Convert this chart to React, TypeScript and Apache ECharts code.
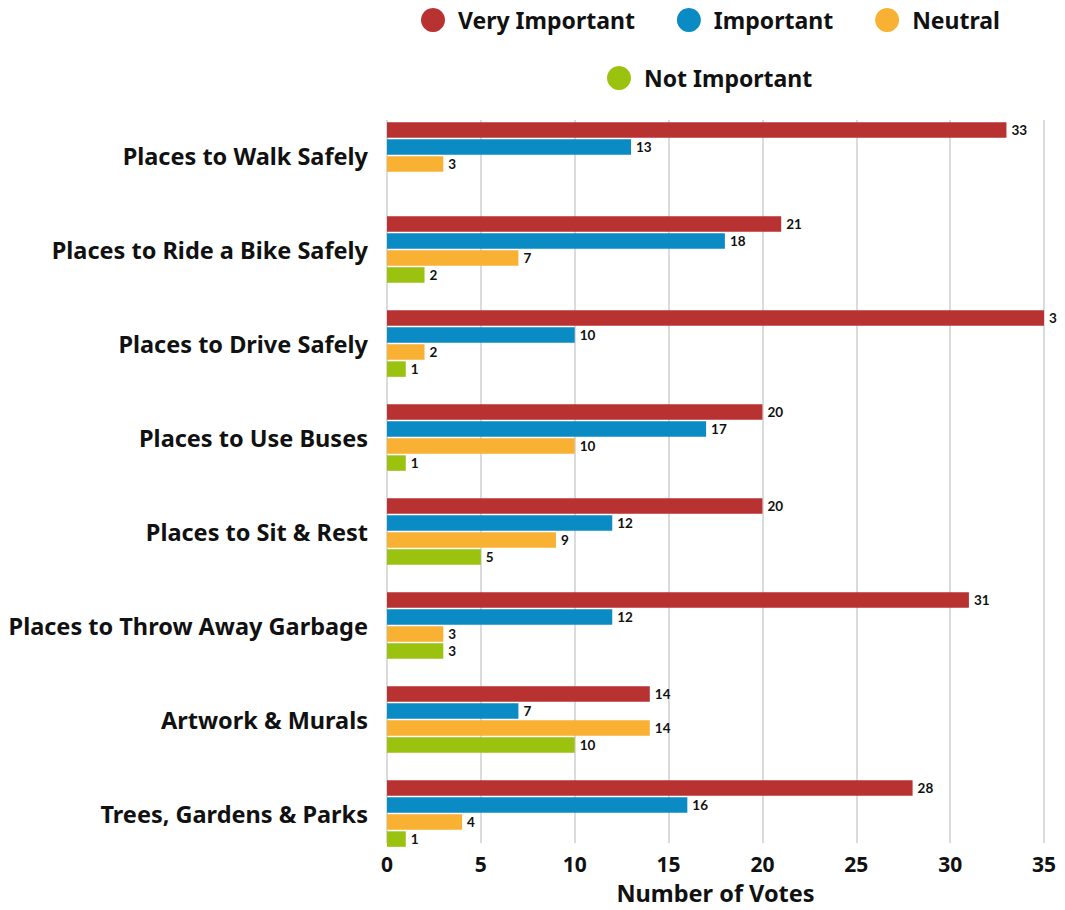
import React, { useEffect, useRef } from "react";
import * as echarts from "echarts";

const categories = [
  "Places to Walk Safely",
  "Places to Ride a Bike Safely",
  "Places to Drive Safely",
  "Places to Use Buses",
  "Places to Sit & Rest",
  "Places to Throw Away Garbage",
  "Artwork & Murals",
  "Trees, Gardens & Parks",
];
const veryImportant = [33, 21, 35, 20, 20, 31, 14, 28];
const important = [13, 18, 10, 17, 12, 12, 7, 16];
const neutral = [3, 7, 2, 10, 9, 3, 14, 4];
const notImportant = [0, 2, 1, 1, 5, 3, 10, 1];

const seriesNames = ["Very Important", "Important", "Neutral", "Not Important"];
const seriesData = [veryImportant, important, neutral, notImportant];
const colors = ["#B93232", "#0B8BC4", "#F8B133", "#9CC210"];

const FONT = "'Noto Sans', sans-serif";

export default function App() {
  const ref = useRef<HTMLDivElement>(null);
  useEffect(() => {
    if (!ref.current) return;
    const chart = echarts.init(ref.current, undefined, { renderer: "svg" });
    const legendText = { fontFamily: FONT, fontWeight: "bold", fontSize: 23, color: "#111" };
    chart.setOption({
      animation: false,
      backgroundColor: "#fff",
      color: colors,
      legend: [
        {
          data: seriesNames.slice(0, 3),
          left: 416,
          top: 3,
          icon: "circle",
          itemWidth: 40,
          itemHeight: 24,
          itemGap: 42,
          textStyle: legendText,
        },
        {
          data: seriesNames.slice(3),
          left: 602,
          top: 61,
          icon: "circle",
          itemWidth: 40,
          itemHeight: 24,
          textStyle: legendText,
        },
      ],
      grid: [
        { left: 387, right: 21, top: 108.5, height: 752, containLabel: false },
        { left: 387, right: 21, top: 120, bottom: 63, containLabel: false },
      ],
      xAxis: [
        { gridIndex: 0, type: "value", min: 0, max: 35, show: false },
        {
          gridIndex: 1,
          type: "value",
          min: 0,
          max: 35,
          interval: 5,
          axisLine: { show: false },
          axisTick: { show: false },
          splitLine: { show: true, lineStyle: { color: "#cfcfcf", width: 1.5 } },
          axisLabel: { fontFamily: FONT, fontWeight: "bold", fontSize: 21, color: "#111", margin: 10 },
          name: "Number of Votes",
          nameLocation: "middle",
          nameGap: 38,
          nameTextStyle: { fontFamily: FONT, fontWeight: "bold", fontSize: 23.5, color: "#111" },
        },
      ],
      yAxis: [
        {
          gridIndex: 0,
          type: "category",
          data: categories,
          inverse: true,
          axisLine: { show: false },
          axisTick: { show: false },
          splitLine: { show: false },
          axisLabel: { fontFamily: FONT, fontWeight: "bold", fontSize: 23.5, color: "#111", margin: 19 },
        },
        { gridIndex: 1, type: "value", show: false, min: 0, max: 1 },
      ],
      series: seriesNames.map((name, i) => ({
        name,
        type: "bar",
        xAxisIndex: 0,
        yAxisIndex: 0,
        data: seriesData[i],
        barWidth: 15.5,
        barGap: "10%",
        itemStyle: { color: colors[i] },
        label: {
          show: true,
          position: "right",
          distance: 5,
          fontFamily: "Lato, sans-serif",
          fontWeight: "bold",
          fontSize: 13.5,
          color: "#111",
          formatter: (p: any) => (p.value === 0 ? "" : String(p.value)),
        },
      })),
    });
    return () => chart.dispose();
  }, []);
  return <div ref={ref} style={{ width: 1065, height: 910, margin: -8 }} />;
}
